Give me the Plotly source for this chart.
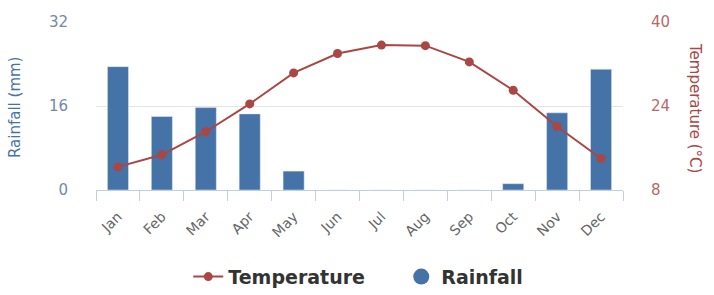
import plotly.graph_objects as go

months = ["Jan", "Feb", "Mar", "Apr", "May", "Jun", "Jul", "Aug", "Sep", "Oct", "Nov", "Dec"]
rainfall = [23.5, 14.0, 15.7, 14.5, 3.6, 0, 0, 0, 0, 1.2, 14.7, 23.0]
temperature = [12.4, 14.7, 19.1, 24.4, 30.3, 34.0, 35.6, 35.5, 32.4, 27.0, 20.1, 14.0]

BLUE = "#4572A7"
RED = "#AA4643"
FONT = "DejaVu Sans"

fig = go.Figure()
fig.add_trace(go.Bar(x=months, y=rainfall, name="Rainfall", marker_color=BLUE,
                     showlegend=False, yaxis="y"))
fig.add_trace(go.Scatter(x=months, y=temperature, name="Temperature", mode="lines+markers",
                         line=dict(color=RED, width=2), marker=dict(color=RED, size=9),
                         yaxis="y2"))
# legend entry for rainfall shown as a circle
fig.add_trace(go.Scatter(x=[None], y=[None], name="Rainfall", mode="markers",
                         marker=dict(color=BLUE, size=17, symbol="circle"), yaxis="y"))

fig.update_layout(
    width=714, height=295,
    margin=dict(l=96, r=91, t=22, b=105),
    paper_bgcolor="white", plot_bgcolor="white",
    font=dict(family=FONT, size=12, color="#666666"),
    bargap=0.52,
    xaxis=dict(type="category", tickangle=-45, showgrid=False, showline=True,
               linecolor="#C0D0E0", linewidth=1, ticks="outside", tickson="boundaries",
               tickcolor="#C0D0E0", ticklen=10, ticklabelstandoff=12,
               tickfont=dict(size=14, color="#666666"),
               range=[-0.5, 11.5]),
    yaxis=dict(range=[0, 32], tick0=0, dtick=16, showgrid=True, gridcolor="#E4E4E4",
               zeroline=False, showline=False, ticklabelstandoff=27,
               tickfont=dict(size=15, color="#7787AA")),
    yaxis2=dict(range=[8, 40], tick0=8, dtick=16, overlaying="y", side="right", showgrid=False,
                zeroline=False, showline=False, ticklabelstandoff=27,
                tickfont=dict(size=15, color="#B56A68")),
    legend=dict(orientation="h", xref="container", yref="container", x=0.562, y=0.062,
                xanchor="center", yanchor="middle",
                font=dict(size=19, color="#333333", family=FONT, weight="bold"),
                itemwidth=30, entrywidth=168, entrywidthmode="pixels"),
    annotations=[
        dict(text="Rainfall (mm)", xref="paper", yref="paper", x=-0.155, y=0.49,
             xanchor="center", yanchor="middle", textangle=-90, showarrow=False,
             font=dict(size=15, color=BLUE)),
        dict(text="Temperature (°C)", xref="paper", yref="paper", x=1.138, y=0.49,
             xanchor="center", yanchor="middle", textangle=90, showarrow=False,
             font=dict(size=15, color=RED)),
    ],
)

fig.write_html("out.html", post_script="document.body.style.margin='0';",
               config={"displayModeBar": False})
